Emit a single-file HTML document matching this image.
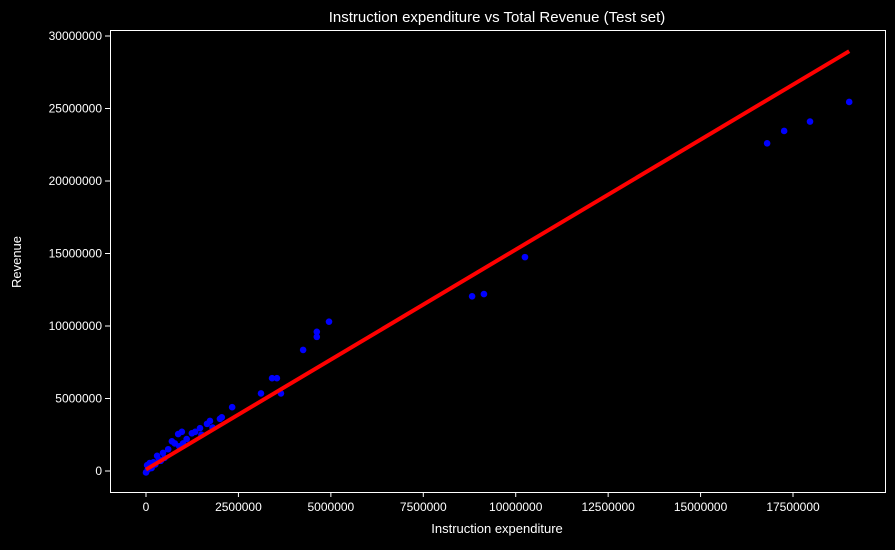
<!DOCTYPE html>
<html><head><meta charset="utf-8"><style>
body{margin:0;background:#000;width:895px;height:545px;overflow:hidden}
svg text{font-family:"Liberation Sans",sans-serif;fill:#fff}
</style></head><body>
<svg id="c" width="895" height="545">
<rect x="110.5" y="30.5" width="775" height="462" fill="#000" stroke="#fff" stroke-width="1"/>
<text x="497" y="22" font-size="15" text-anchor="middle">Instruction expenditure vs Total Revenue (Test set)</text>
<text x="497" y="533" font-size="13" text-anchor="middle">Instruction expenditure</text>
<text x="21" y="262" font-size="13" text-anchor="middle" transform="rotate(-90 21 262)">Revenue</text>
</svg>
<script>
const xTicks=[0,2500000,5000000,7500000,10000000,12500000,15000000,17500000];
const yTicks=[0,5000000,10000000,15000000,20000000,25000000,30000000];
const expenditure=[19020000,17960000,17260000,16800000,10250000,9140000,8820000,4950000,4620000,4620000,4250000,3650000,3540000,3410000,3110000,2330000,2050000,2000000,1730000,1650000,1460000,1330000,1240000,970000,870000,700000,780000,460000,300000,100000,30000,0,200000,500000,1000000,1100000,600000,150000,50000,400000,900000,1500000,1800000,250000,350000];
const revenue=[25450000,24100000,23450000,22600000,14750000,12200000,12050000,10300000,9600000,9250000,8350000,5350000,6400000,6400000,5350000,4400000,3700000,3600000,3450000,3250000,2950000,2700000,2600000,2700000,2550000,2050000,1900000,1250000,1050000,550000,400000,-100000,600000,900000,1900000,2200000,1500000,200000,100000,700000,1700000,2500000,3000000,450000,800000];
const fitSlope=1.517, fitIntercept=100000;
const X=v=>146+v/2500000*92.43, Y=v=>471-v/1000000*14.5;
const s=document.getElementById('c'),NS='http://www.w3.org/2000/svg';
function mk(t,a){const e=document.createElementNS(NS,t);for(const k in a)e.setAttribute(k,a[k]);s.appendChild(e);return e;}
xTicks.forEach(v=>{const x=X(v);
const l=mk('line',{x1:x,x2:x,y1:492,y2:497,stroke:'#fff'});


const t=mk('text',{x:x,y:511,'font-size':12,'text-anchor':'middle'});t.textContent=v;

});
yTicks.forEach(v=>{const y=Y(v);
const l=mk('line',{x1:105,x2:110,y1:y,y2:y,stroke:'#fff'});


const t=mk('text',{x:102,y:y+4,'font-size':12,'text-anchor':'end'});t.textContent=v;

});
expenditure.forEach((v,i)=>{const c=mk('circle',{cx:X(v),cy:Y(revenue[i]),r:3.3,fill:'#0000ff'});

});
const mn=Math.min(...expenditure),mx=Math.max(...expenditure);
const ln=mk('line',{x1:X(mn),y1:Y(fitIntercept+fitSlope*mn),x2:X(mx),y2:Y(fitIntercept+fitSlope*mx),stroke:'#ff0000','stroke-width':4});


</script>
</body></html>
